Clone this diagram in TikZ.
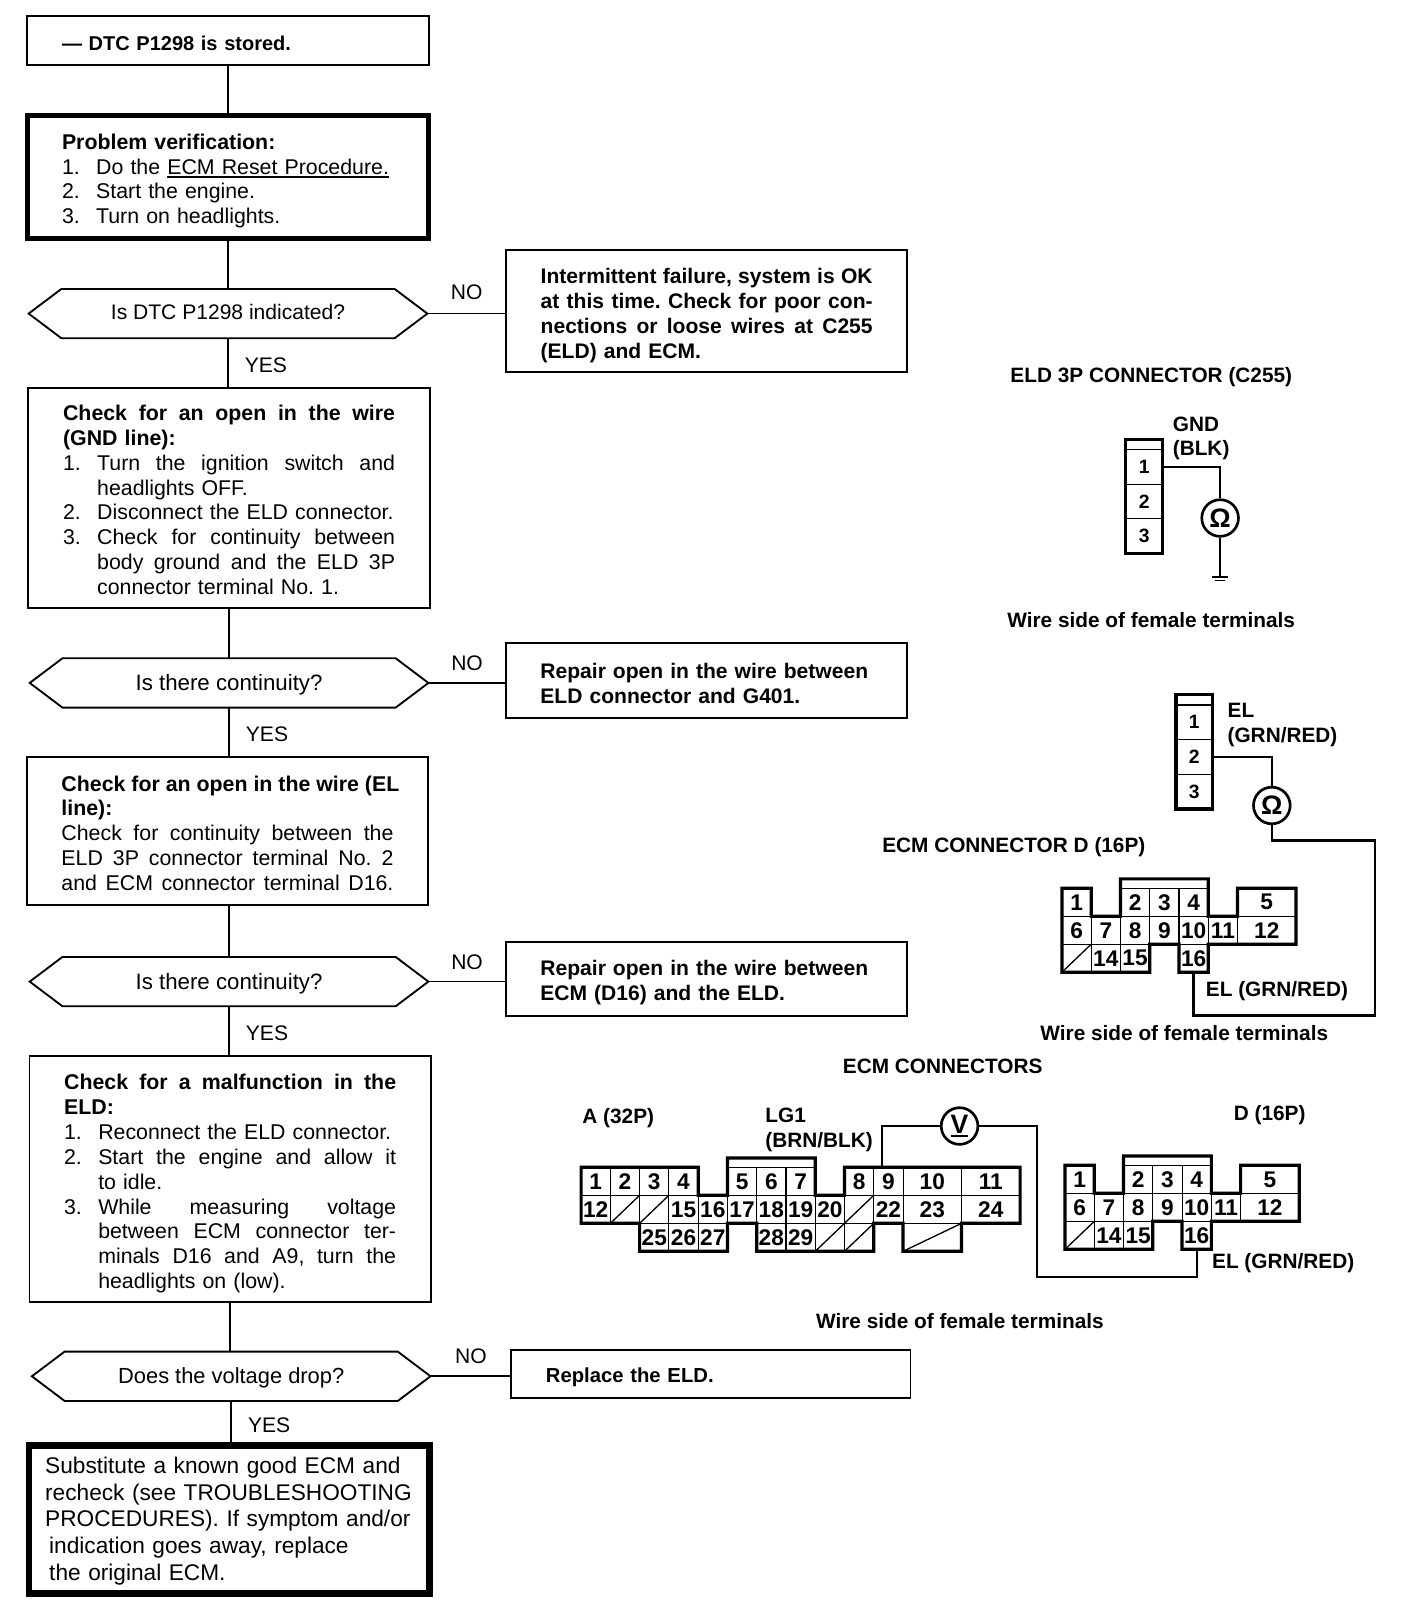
\documentclass[tikz,border=0pt]{standalone}
\usepackage{fontspec}
\setmainfont{Liberation Sans}
\usetikzlibrary{positioning}
\usetikzlibrary{shapes.symbols}

\newcommand{\openspaces}{\spaceskip=.278em plus 1fil\relax}
\newcommand{\wideline}[1]{\leavevmode\hbox to 249pt{\openspaces #1}}
\newcommand{\numline}[2]{\makebox[25.6pt][l]{#1}#2}
\newcommand{\numwide}[2]{\leavevmode\hbox to 249pt{\makebox[25.6pt][l]{#1}\hbox to 223.4pt{\openspaces #2}}}
\newcommand{\subline}[1]{\hspace*{25.6pt}#1}
\newcommand{\subwide}[1]{\leavevmode\hbox to 249pt{\hspace*{25.6pt}\hbox to 223.4pt{\openspaces #1}}}
\newcommand{\barred}[1]{\setbox0\hbox{#1}\rlap{\rule[-3pt]{\wd0}{1.6pt}}\box0}
\newcommand{\pad}[1]{\rule{0pt}{#1}}

\tikzset{
	stepbox/.style = {draw, rectangle, outer sep=0pt, line width=1.4pt, inner xsep=26pt, inner ysep=0pt, text width=249pt, align=left, font=\frenchspacing\fontsize{16}{18.7}\selectfont},
	boldbox/.style = {stepbox, font=\frenchspacing\bfseries\fontsize{15.8}{18.7}\selectfont},
	heavybox/.style = {stepbox, line width=3.6pt},
	askbox/.style = {draw, signal, signal to=west and east, signal pointer angle=74, outer sep=0pt, line width=1.4pt, inner sep=0pt, minimum width=299pt, minimum height=37pt, font=\fontsize{16.7}{18.7}\selectfont},
	link/.style = {line width=1.3pt},
	answer/.style = {inner sep=2pt, font=\fontsize{15.8}{18.7}\selectfont},
	plugtext/.style = {inner sep=0pt, anchor=west, align=left, font=\bfseries\fontsize{15.6}{18.7}\selectfont},
	wire/.style = {line width=1.8pt},
	meter/.style = {draw, circle, line width=2pt, inner sep=0pt, minimum size=27.5pt, font=\bfseries\fontsize{20}{20}\selectfont},
	pincell/.style = {draw, rectangle, line width=0.8pt, inner sep=0pt, outer sep=0pt, minimum width=21.95pt, minimum height=21pt, font=\bfseries\fontsize{17}{17}\selectfont},
	pinwide/.style = {pincell, minimum width=43.9pt},
	pinslash/.style = {pincell, path picture={\draw[line width=1pt] (path picture bounding box.south west) -- (path picture bounding box.north east);}},
	pinhood/.style = {draw, rectangle, line width=0.8pt, inner sep=0pt, outer sep=0pt, minimum width=65.85pt, minimum height=7pt},
	plugedge/.style = {line width=2.4pt, line join=miter},
	eldcell/.style = {draw, rectangle, line width=0.8pt, inner sep=0pt, outer sep=0pt, minimum width=27.5pt, minimum height=26pt, font=\bfseries\fontsize{14.5}{15}\selectfont},
	eldhood/.style = {draw, rectangle, line width=0.8pt, inner sep=0pt, outer sep=0pt, minimum width=27.5pt, minimum height=7.6pt},
}

% 16P plug of the ECM: prefix, left, top
\newcommand{\ecmplug}[3]{
	\node[pincell, anchor=north west] (#11) at (#2,#3) {1};
	\node[pincell] (#16) [below=0pt of #11] {6};
	\node[pinslash] (#113) [below=0pt of #16] {};
	\node[pincell] (#17) [right=0pt of #16] {7};
	\node[pincell] (#114) [below=0pt of #17] {14};
	\node[pincell] (#18) [right=0pt of #17] {8};
	\node[pincell] (#115) [below=0pt of #18] {15};
	\node[pincell] (#12) [above=0pt of #18] {2};
	\node[pincell] (#19) [right=0pt of #18] {9};
	\node[pincell] (#13) [above=0pt of #19] {3};
	\node[pincell] (#110) [right=0pt of #19] {10};
	\node[pincell] (#14) [above=0pt of #110] {4};
	\node[pincell] (#116) [below=0pt of #110] {16};
	\node[pincell] (#111) [right=0pt of #110] {11};
	\node[pinwide] (#112) [right=0pt of #111] {12};
	\node[pinwide] (#15) [above=0pt of #112] {5};
	\node[pinhood] (#1hood) [above=0pt of #13] {};
	\draw[plugedge] (#11.north west) -- (#11.north east) -- (#17.north west) -- (#17.north east) -- (#1hood.north west) -- (#1hood.north east) -- (#111.north west) -- (#111.north east) -- (#15.north west) -- (#15.north east) -- (#112.south east) -- (#116.north east) -- (#116.south east) -- (#116.south west) -- (#116.north west) -- (#115.north east) -- (#115.south east) -- (#113.south west) -- cycle;
}

% 3P plug of the ELD: prefix, centre, top
\newcommand{\eldplug}[3]{
	\node[eldhood, anchor=north] (#1hood) at (#2,#3) {};
	\node[eldcell] (#11) [below=0pt of #1hood] {1};
	\node[eldcell] (#12) [below=0pt of #11] {2};
	\node[eldcell] (#13) [below=0pt of #12] {3};
	\draw[plugedge] (#1hood.north west) -- (#1hood.north east) -- (#13.south east) -- (#13.south west) -- cycle;
}

\begin{document}
\begin{tikzpicture}
	\useasboundingbox (0,0) rectangle (1056pt,-1215pt);

	% flow on the left
	\node[boldbox, minimum height=37pt, font=\bfseries\fontsize{15}{18.7}\selectfont] (stored) at (171pt,-30.2pt) {\pad{16pt}--- DTC P1298 is stored.};
	\node[heavybox, minimum height=92pt] (verify) [below=38pt of stored] {\pad{17.7pt}\textbf{Problem verification:}\\
		\numline{1.}{Do the \barred{ECM Reset Procedure.}}\\
		\numline{2.}{Start the engine.}\\
		\numline{3.}{Turn on headlights.}};
	\node[askbox, font=\fontsize{15.8}{18.7}\selectfont] (askdtc) [below=38pt of verify] {\rule[-2.5pt]{0pt}{11pt}Is DTC P1298 indicated?};
	\node[stepbox, minimum height=165pt, xshift=0.8pt] (gndline) [below=37pt of askdtc] {\pad{15pt}\textbf{\wideline{Check for an open in the wire}}\\
		\textbf{(GND line):}\\
		\numwide{1.}{Turn the ignition switch and}\\
		\subline{headlights OFF.}\\
		\numline{2.}{Disconnect the ELD connector.}\\
		\numwide{3.}{Check for continuity between}\\
		\subwide{body ground and the ELD 3P}\\
		\subline{connector terminal No. 1.}};
	\node[askbox] (askgnd) [below=38pt of gndline] {\pad{15pt}Is there continuity?};
	\node[stepbox, minimum height=111pt, xshift=-1.2pt] (elline) [below=37.2pt of askgnd] {\pad{14.7pt}\textbf{\wideline{Check for an open in the wire (EL}}\\
		\textbf{line):}\\
		\wideline{Check for continuity between the}\\
		\wideline{ELD 3P connector terminal No. 2}\\
		\wideline{and ECM connector terminal D16.}};
	\node[askbox, xshift=1.2pt] (askel) [below=38.8pt of elline] {\pad{15pt}Is there continuity?};
	\node[stepbox, minimum height=184.6pt, xshift=0.8pt] (eldtest) [below=37.2pt of askel] {\pad{18.5pt}\textbf{\wideline{Check for a malfunction in the}}\\
		\textbf{ELD:}\\
		\numline{1.}{Reconnect the ELD connector.}\\
		\numwide{2.}{Start the engine and allow it}\\
		\subline{to idle.}\\
		\numwide{3.}{While measuring voltage}\\
		\subwide{between ECM connector ter-}\\
		\subwide{minals D16 and A9, turn the}\\
		\subline{headlights on (low).}};
	\node[askbox, xshift=0.8pt, font=\fontsize{16.4}{18.7}\selectfont] (askdrop) [below=37.2pt of eldtest] {\pad{14pt}Does the voltage drop?};
	\node[stepbox, line width=5pt, minimum height=111pt, inner xsep=12.2pt, text width=276pt, font=\frenchspacing\fontsize{17}{20}\selectfont, xshift=-1.5pt] (swapecm) [below=33.5pt of askdrop] {\pad{14.5pt}Substitute a known good ECM and\\
		recheck (see TROUBLESHOOTING\\
		PROCEDURES). If symptom and/or\\
		\hspace*{3pt}indication goes away, replace\\
		\hspace*{3pt}the original ECM.};

	% answers on the right of the flow
	\node[boldbox, minimum height=92pt, yshift=2pt] (noverdict) [right=59pt of askdtc] {\pad{18.5pt}\wideline{Intermittent failure, system is OK}\\
		\wideline{at this time. Check for poor con-}\\
		\wideline{nections or loose wires at C255}\\
		(ELD) and ECM.};
	\node[boldbox, minimum height=56pt, yshift=2pt] (fixgnd) [right=58pt of askgnd] {\pad{16.5pt}Repair open in the wire between\\
		ELD connector and G401.};
	\node[boldbox, minimum height=56pt, yshift=2pt] (fixel) [right=58pt of askel] {\pad{17pt}Repair open in the wire between\\
		ECM (D16) and the ELD.};
	\node[boldbox, minimum height=36pt, yshift=2pt, text width=247.5pt, font=\bfseries\fontsize{15.2}{18.7}\selectfont] (swapeld) [right=60.5pt of askdrop] {\pad{17pt}Replace the ELD.};

	\draw[link] (stored) -- (stored |- verify.north);
	\draw[link] (verify) -- (verify |- askdtc.north);
	\draw[link] (askdtc.south) -- node[answer, right=10pt, yshift=-1.5pt] (yesdtc) {YES} (askdtc.south |- gndline.north);
	\draw[link] (gndline) -- (gndline |- askgnd.north);
	\draw[link] (askgnd.south) -- node[answer, right=10pt, yshift=-1.5pt] (yesgnd) {YES} (askgnd.south |- elline.north);
	\draw[link] (askgnd.south |- elline.south) -- (askgnd.south |- askel.north);
	\draw[link] (askel.south) -- node[answer, right=10pt, yshift=-1.5pt] (yesel) {YES} (askel.south |- eldtest.north);
	\draw[link] (eldtest) -- (eldtest |- askdrop.north);
	\draw[link] (askdrop.south) -- node[answer, right=10pt, yshift=-1.5pt] (yesdrop) {YES} (askdrop.south |- swapecm.north);
	\draw[link] (askdtc.east) -- node[answer, above=7.5pt] (nodtc) {NO} (askdtc.east -| noverdict.west);
	\draw[link] (askgnd.east) -- node[answer, above=6.5pt] (nognd) {NO} (askgnd.east -| fixgnd.west);
	\draw[link] (askel.east) -- node[answer, above=6.5pt] (noel) {NO} (askel.east -| fixel.west);
	\draw[link] (askdrop.east) -- node[answer, above=6.5pt] (nodrop) {NO} (askdrop.east -| swapeld.west);

	% plugs and meters
	\begin{scope}[x=0.7755pt, y=-0.7755pt]
		\node[plugtext] (eldtitle) at (977,365) {ELD 3P CONNECTOR (C255)};
		\eldplug{e}{1106.5}{425}
		\node[plugtext] (gndtag) at (1134,424) {GND\\(BLK)};
		\node[meter] (ohmgnd) at (1180,501) {Ω};
		\coordinate (earth) at (1180,558);
		\draw[wire] (e1.east) -| (ohmgnd.north);
		\draw[wire] (ohmgnd.south) -- (earth);
		\draw[wire] ([xshift=-6pt]earth) -- ([xshift=6pt]earth);
		\draw[line width=1.2pt] ([xshift=-3.5pt,yshift=-2.6pt]earth) -- ([xshift=3.5pt,yshift=-2.6pt]earth);
		\node[plugtext] (elddoor) at (974,600) {Wire side of female terminals};

		\eldplug{f}{1155}{672}
		\node[plugtext] (eltag) at (1187,701) {EL\\(GRN/RED)};
		\node[meter] (ohmel) at (1230,779) {Ω};
		\node[plugtext] (ecmtitle) at (853,819) {ECM CONNECTOR D (16P)};
		\ecmplug{c}{1027}{859}
		\coordinate (turnA) at (1330,813);
		\coordinate (turnB) at (1330,982);
		\draw[wire] (f2.east) -| (ohmel.north);
		\draw[wire] (ohmel.south) |- (turnA) -- (turnB) -| (c16.south);
		\node[plugtext] (eltagc) at (1166,959) {EL (GRN/RED)};
		\node[plugtext] (ecmdoor) at (1006,999) {Wire side of female terminals};

		\node[plugtext] (bothtitle) at (815,1031) {ECM CONNECTORS};
		\node[plugtext] (atag) at (563,1081) {A (32P)};
		\node[plugtext] (lgtag) at (740,1093) {LG1\\(BRN/BLK)};
		\node[plugtext] (dtag) at (1193,1078) {D (16P)};

		% 32P plug, built from its middle row
		\node[pincell, anchor=north west] (a12) at (562,1156) {12};
		\node[pinslash] (aslashA) [right=0pt of a12] {};
		\node[pinslash] (aslashB) [right=0pt of aslashA] {};
		\node[pincell] (a15) [right=0pt of aslashB] {15};
		\node[pincell] (a16) [right=0pt of a15] {16};
		\node[pincell] (a17) [right=0pt of a16] {17};
		\node[pincell] (a18) [right=0pt of a17] {18};
		\node[pincell] (a19) [right=0pt of a18] {19};
		\node[pincell] (a20) [right=0pt of a19] {20};
		\node[pinslash] (aslashC) [right=0pt of a20] {};
		\node[pincell] (a22) [right=0pt of aslashC] {22};
		\node[pinwide] (a23) [right=0pt of a22] {23};
		\node[pinwide] (a24) [right=0pt of a23] {24};
		\node[pincell] (a1) [above=0pt of a12] {1};
		\node[pincell] (a2) [above=0pt of aslashA] {2};
		\node[pincell] (a3) [above=0pt of aslashB] {3};
		\node[pincell] (a4) [above=0pt of a15] {4};
		\node[pincell] (a5) [above=0pt of a17] {5};
		\node[pincell] (a6) [above=0pt of a18] {6};
		\node[pincell] (a7) [above=0pt of a19] {7};
		\node[pincell] (a8) [above=0pt of aslashC] {8};
		\node[pincell] (a9) [above=0pt of a22] {9};
		\node[pinwide] (a10) [above=0pt of a23] {10};
		\node[pinwide] (a11) [above=0pt of a24] {11};
		\node[pincell] (a25) [below=0pt of aslashB] {25};
		\node[pincell] (a26) [below=0pt of a15] {26};
		\node[pincell] (a27) [below=0pt of a16] {27};
		\node[pincell] (a28) [below=0pt of a18] {28};
		\node[pincell] (a29) [below=0pt of a19] {29};
		\node[pinslash] (aslashD) [below=0pt of a20] {};
		\node[pinslash] (aslashE) [below=0pt of aslashC] {};
		\node[pinslash, minimum width=43.9pt] (aslashF) [below=0pt of a23] {};
		\node[pinhood] (ahood) [above=0pt of a6] {};
		\draw[plugedge] (a1.north west) -- (a4.north east) -- (a16.north west) -- (a16.north east) -- (ahood.north west) -- (ahood.north east) -- (a20.north west) -- (a20.north east) -- (a8.north west) -- (a11.north east) -- (a24.south east) -- (aslashF.north east) -- (aslashF.south east) -- (aslashF.south west) -- (aslashF.north west) -- (aslashE.north east) -- (aslashE.south east) -- (a28.south west) -- (a28.north west) -- (a27.north east) -- (a27.south east) -- (a25.south west) -- (a25.north west) -- (a12.south west) -- cycle;

		\ecmplug{b}{1030}{1127}
		\node[meter] (voltdrop) at (928,1089) {\barred{V}};
		\coordinate (turnC) at (1003,1235);
		\draw[wire] ([xshift=-5pt]a9.north) |- (voltdrop.west);
		\draw[wire] (voltdrop.east) -| (turnC) -| (b16.south);
		\node[plugtext] (eltagb) at (1172,1222) {EL (GRN/RED)};
		\node[plugtext] (bothdoor) at (789,1278) {Wire side of female terminals};
	\end{scope}
\end{tikzpicture}
\end{document}
